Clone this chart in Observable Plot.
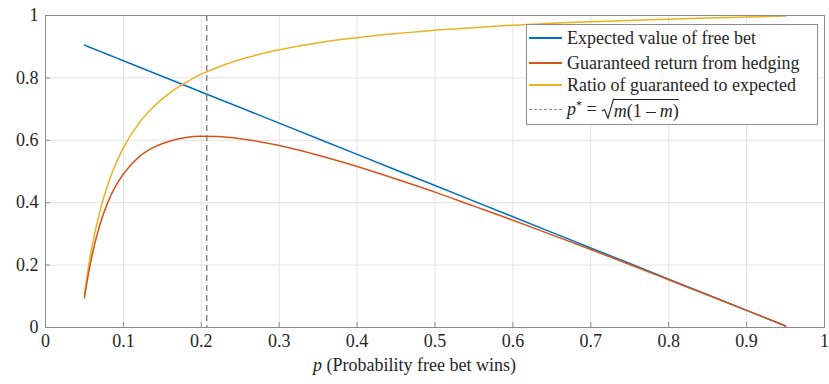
<!DOCTYPE html>
<html>
<head>
<meta charset="utf-8">
<script src="https://cdn.jsdelivr.net/npm/d3@7"></script>
<script src="https://cdn.jsdelivr.net/npm/@observablehq/plot@0.6"></script>
<style>
  @font-face { font-family: 'ChartSerif'; src: local('Liberation Serif'), local('LiberationSerif-Regular'), local('Times New Roman'); font-style: normal; }
  @font-face { font-family: 'ChartSerif'; src: local('Liberation Serif Italic'), local('LiberationSerif-Italic'); font-style: italic; }
  .ser { font-family: 'Liberation Serif', 'ChartSerif', 'Times New Roman', Tinos, serif; }
  #wrap { position: relative; width: 829px; height: 384px; }
  #legend { position: absolute; left: 526px; top: 24px; width: 292px; height: 101px; border: 1px solid #8c8c8c; background: #fff; font-size: 18px; box-sizing: border-box; color: #262626; }
  .item { position: absolute; left: 0; height: 24px; display: flex; align-items: center; white-space: nowrap; }
  .sw { display: inline-block; width: 33px; margin-left: 2px; margin-right: 5px; height: 2px; }
  #xlabel { position: absolute; left: 0; width: 829px; top: 355px; text-align: center; font-size: 18px; color: #262626; }
  .minus { display: inline-block; width: 10px; height: 0; border-top: 1px solid #262626; vertical-align: middle; margin: 0 4px; }
</style>
</head>
<body style="margin:0">
<div id="wrap">
  <div id="xlabel" class="ser"><i>p</i> (Probability free bet wins)</div>
  <div id="legend" class="ser"></div>
</div>
<script>
// Data
const p     = [0.05,0.055,0.06,0.07,0.08,0.09,0.10,0.12,0.14,0.16,0.18,0.20,0.22,0.25,0.30,0.35,0.40,0.45,0.50,0.55,0.60,0.65,0.70,0.75,0.80,0.85,0.90,0.95];
const ev    = [0.905,0.9,0.895,0.885,0.875,0.865,0.855,0.835,0.815,0.795,0.775,0.755,0.735,0.705,0.655,0.605,0.555,0.505,0.455,0.405,0.355,0.305,0.255,0.205,0.155,0.105,0.055,0.005];
const hedge = [0.095,0.171,0.234,0.331,0.401,0.453,0.492,0.547,0.579,0.598,0.609,0.613,0.612,0.605,0.583,0.552,0.516,0.476,0.434,0.389,0.344,0.297,0.250,0.202,0.153,0.104,0.055,0.005];
const ratio = [0.105,0.190,0.262,0.374,0.458,0.524,0.576,0.655,0.711,0.753,0.785,0.812,0.833,0.859,0.890,0.913,0.929,0.942,0.953,0.961,0.969,0.975,0.980,0.984,0.988,0.992,0.995,0.998];
const pStar = 0.207;
const xTicks = [0,0.1,0.2,0.3,0.4,0.5,0.6,0.7,0.8,0.9,1];
const yTicks = [0,0.2,0.4,0.6,0.8,1];
const seriesNames = ["Expected value of free bet","Guaranteed return from hedging","Ratio of guaranteed to expected"];
const colors = ["#0072BD","#D95319","#EDB120"];

const rows = (ys) => p.map((x, i) => ({x, y: ys[i]}));
const fmt = d => d === 0 ? "0" : d === 1 ? "1" : String(d);

const chart = Plot.plot({
  width: 829,
  height: 384,
  marginLeft: 45,
  marginRight: 5,
  marginTop: 15,
  marginBottom: 57,
  style: "font-family: 'Liberation Serif', 'ChartSerif', 'Times New Roman', Tinos, serif; font-size: 18px;",
  x: { domain: [0, 1], ticks: xTicks, label: null },
  y: { domain: [0, 1], ticks: yTicks, label: null },
  marks: [
    Plot.gridX(xTicks, { stroke: "#e3e3e3", strokeOpacity: 1 }),
    Plot.gridY(yTicks, { stroke: "#e3e3e3", strokeOpacity: 1 }),
    Plot.ruleX([pStar], { stroke: "#8c8c8c", strokeWidth: 1.5, strokeDasharray: "6,4" }),
    Plot.line(rows(ev),    { x: "x", y: "y", stroke: colors[0], strokeWidth: 1.5, curve: "linear" }),
    Plot.line(rows(ratio), { x: "x", y: "y", stroke: colors[2], strokeWidth: 1.5, curve: "monotone-x" }),
    Plot.line(rows(hedge), { x: "x", y: "y", stroke: colors[1], strokeWidth: 1.5, curve: "monotone-x" }),
    Plot.frame({ stroke: "#8c8c8c", strokeWidth: 1 }),
    Plot.axisX(xTicks, { tickSize: -5, tickPadding: 12, tickFormat: fmt, stroke: "#8c8c8c", fill: "#262626" }),
    Plot.axisY(yTicks, { tickSize: -5, tickPadding: 12, tickFormat: fmt, stroke: "#8c8c8c", fill: "#262626" })
  ]
});

const wrap = document.getElementById("wrap");
wrap.insertBefore(chart, wrap.firstChild);

// Legend
const legend = document.getElementById("legend");
const tops = [1, 26, 48, 72];
seriesNames.forEach((name, i) => {
  const it = document.createElement("div");
  it.className = "item";
  it.style.top = tops[i] + "px";
  it.innerHTML = `<span class="sw" style="background:${colors[i]}"></span><span>${name}</span>`;
  legend.appendChild(it);
});
const last = document.createElement("div");
last.className = "item";
last.style.top = tops[3] + "px";
const radical = `<svg width="13" height="22" style="vertical-align:-5px;margin-left:4px"><path d="M1,13 L3.5,11.5 L7,20 L12.5,1 L13,1" fill="none" stroke="#262626" stroke-width="1.1"/></svg>`;
last.innerHTML = `<span class="sw" style="height:0;border-top:1.5px dashed #8c8c8c"></span><span style="display:inline-flex;align-items:center"><i>p</i><sup style="font-size:12px;margin-top:-8px">*</sup>&nbsp;=${radical}<span style="border-top:1.1px solid #262626;padding-top:1px;margin-top:3px"><i>m</i>(1<span class="minus"></span><i>m</i>)</span></span>`;
legend.appendChild(last);
</script>
</body>
</html>
